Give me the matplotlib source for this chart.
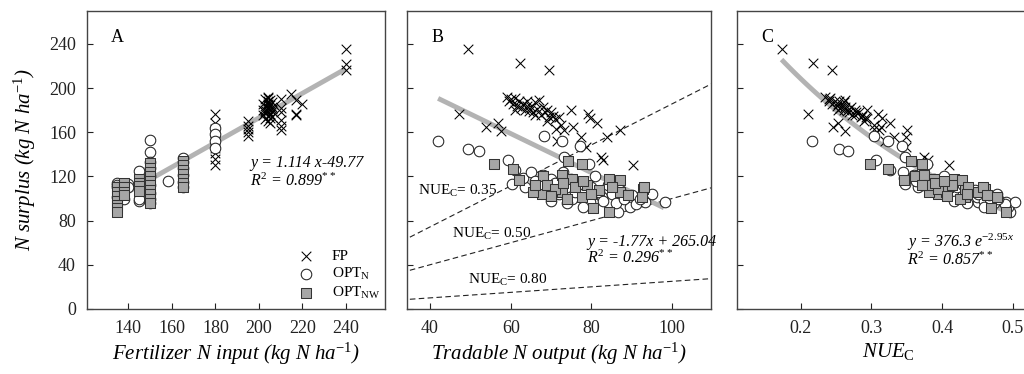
import matplotlib
matplotlib.use("Agg")
import matplotlib.pyplot as plt
import numpy as np

plt.rcParams['font.family'] = ['Liberation Serif', 'DejaVu Serif']
plt.rcParams['mathtext.fontset'] = 'custom'
plt.rcParams['mathtext.rm'] = 'Liberation Serif'
plt.rcParams['mathtext.it'] = 'Liberation Serif:italic'

# ---- panel A: fertilizer N input vs N surplus ----
a_fp_x = [180]*11 + [195]*5 + [202, 202, 203, 203, 203, 203, 204, 204, 204, 204, 204, 204, 205, 205,
          205, 205, 205, 205, 206, 206, 206, 206, 203, 204, 205, 202, 206, 204] + \
         [210]*6 + [215, 217, 217, 217, 220] + [240]*3
a_fp_y = [177, 168, 163, 160, 157, 152, 150, 146, 141, 136, 130,
          170, 166, 163, 160, 157,
          186, 176, 190, 184, 178, 172, 192, 188, 182, 179, 175, 170, 189, 185,
          181, 177, 173, 168, 187, 183, 179, 174, 180, 186, 176, 180, 181, 191,
          190, 182, 178, 171, 166, 162,
          195, 189, 177, 176, 186,
          235, 222, 216]
a_optn_x = [135, 135, 135, 135, 138, 140, 140, 145, 145, 145,
            150, 150, 150, 150, 150, 150, 150, 150, 150, 158,
            165, 165, 165, 165, 165, 165, 180, 180, 180, 180]
a_optn_y = [114, 112, 110, 101, 100, 113, 110, 125, 98, 100,
            153, 142, 133, 128, 120, 112, 105, 100, 96, 116,
            137, 133, 128, 121, 115, 110, 164, 158, 152, 146]
a_optnw_x = [135]*7 + [138]*4 + [145]*4 + [150]*10 + [165]*7
a_optnw_y = [110, 106, 102, 98, 94, 91, 88,
             114, 110, 106, 103,
             118, 114, 111, 107,
             132, 128, 124, 120, 116, 112, 108, 104, 100, 96,
             134, 130, 126, 122, 118, 114, 110]
a_fit_x = [135, 240]

# ---- panel B: tradable N output vs N surplus ----
b_fp_x = [49.4, 62.3, 69.6, 47.2, 53.9, 56.9, 57.5,
          59, 59.5, 60, 60.5, 61, 61.5, 62, 62.5, 63, 63.5, 64, 64.5, 65, 65.5, 66, 66.5,
          67, 67.5, 68, 68.5, 69, 69.5, 70, 70.5, 71, 72, 66, 64, 61,
          74.9, 79.2, 79.7, 81.4, 87.1, 83.8, 77.5, 75.4, 73.1, 71.2, 71.6, 78.7, 82.3,
          82.8, 90.3, 72.5, 69]
b_fp_y = [235, 223, 216, 177, 165, 168, 161,
          192, 188, 190, 186, 191, 184, 188, 182, 186, 180, 184, 179, 183, 178, 187, 181,
          189, 176, 183, 178, 180, 174, 178, 175, 172, 174, 176, 188, 180,
          180, 177, 173, 168, 162, 156, 156, 164.5, 162, 163, 152.5, 147, 137.5,
          135, 130, 167, 170]
b_optn_x = [42, 49.4, 52.1, 68.3, 72.8, 77.3, 59.3, 73.1, 79.5, 60.3, 63.6, 75.1, 79.7, 82.6,
            86.7, 89.6, 93.3, 98.3, 61, 63, 65, 66, 67, 68, 69, 70, 71, 72, 73, 74, 75, 76,
            77, 78, 80, 81, 82, 83, 84, 85, 86, 87, 88, 90, 91, 92, 95, 70, 74, 78]
b_optn_y = [152.5, 145, 143, 157, 152, 148, 134.5, 137.5, 131, 113, 110, 100, 97, 101.5,
            88, 92, 97, 97, 126, 119, 124, 116, 112, 121, 108, 118, 114, 104, 124, 110, 118, 106,
            113, 104, 110, 120, 106, 98, 112, 104, 96, 108, 100, 103, 95, 100, 104, 98, 96, 92]
b_optnw_x = [55.9, 74.2, 77.6, 60.6, 67.9, 72.6, 75.1, 84.4, 87.1, 92.9, 67.7, 65.6, 72.6,
             77.6, 80.4, 84.4, 87.1, 92.5, 93, 69, 71, 73, 76, 79, 82, 85, 70, 74, 80, 89,
             66, 78, 62]
b_optnw_y = [131.5, 134, 131, 127, 120, 121, 118, 118, 116.5, 109, 104, 106, 106,
             101.5, 91, 88, 106, 101.5, 110, 112, 109, 114, 110, 112, 108, 110, 102, 100, 104, 103,
             112, 116, 117]
b_fit_x = [42, 98]
nue_levels = [0.35, 0.50, 0.80]
nue_x = [35, 110]

# ---- panel C: NUE_C vs N surplus ----
c_fp_x = [0.174, 0.218, 0.244, 0.211, 0.246, 0.253, 0.263,
          0.235, 0.240, 0.240, 0.245, 0.242, 0.251, 0.248, 0.256, 0.253, 0.261, 0.258, 0.265,
          0.262, 0.269, 0.261, 0.269, 0.262, 0.277, 0.271, 0.278, 0.277, 0.285, 0.282, 0.287,
          0.292, 0.293, 0.273, 0.254, 0.253,
          0.294, 0.309, 0.315, 0.326, 0.350, 0.349, 0.332, 0.314, 0.311, 0.304, 0.319, 0.349,
          0.374, 0.380, 0.410, 0.303, 0.289]
c_fp_y = b_fp_y
c_optn_x = [0.216, 0.254, 0.267, 0.303, 0.324, 0.343, 0.306, 0.347, 0.378, 0.348, 0.366,
            0.429, 0.451, 0.449, 0.496, 0.493, 0.490, 0.503, 0.326, 0.346, 0.344, 0.363, 0.374,
            0.360, 0.390, 0.372, 0.384, 0.409, 0.371, 0.402, 0.389, 0.418, 0.405, 0.429, 0.421,
            0.403, 0.436, 0.459, 0.429, 0.450, 0.473, 0.446, 0.468, 0.466, 0.489, 0.479, 0.477,
            0.417, 0.435, 0.459]
c_optn_y = b_optn_y
c_optnw_x = [0.298, 0.356, 0.372, 0.323, 0.361, 0.375, 0.389, 0.417, 0.428, 0.460, 0.394,
             0.382, 0.406, 0.433, 0.469, 0.490, 0.451, 0.477, 0.458, 0.381, 0.394, 0.390, 0.409,
             0.414, 0.432, 0.436, 0.407, 0.425, 0.435, 0.464, 0.371, 0.402, 0.346]
c_optnw_y = b_optnw_y

fp_kw = dict(marker='x', s=48, c='black', linewidths=0.75, zorder=3)
on_kw = dict(marker='o', s=58, facecolors='white', edgecolors='#222222', linewidths=0.75, zorder=4)
onw_kw = dict(marker='s', s=48, facecolors='#a6a6a6', edgecolors='#333333', linewidths=0.75, zorder=4)
fit_kw = dict(color='#b3b3b3', lw=3.5, zorder=2, solid_capstyle='butt')

fig = plt.figure(figsize=(10.24, 3.74), dpi=100)
axA = fig.add_axes([0.085, 0.174, 0.291, 0.797])
axB = fig.add_axes([0.3975, 0.174, 0.297, 0.797])
axC = fig.add_axes([0.7197, 0.174, 0.295, 0.797])

for ax in (axA, axB, axC):
    ax.set_ylim(0, 270)
    ax.set_yticks([0, 40, 80, 120, 160, 200, 240])
    ax.tick_params(direction='in', length=4, width=0.8, labelsize=13, colors='#222222',
                   pad=8)
    for sp in ax.spines.values():
        sp.set_color('#444444')
        sp.set_linewidth(1.0)

# A
axA.scatter(a_fp_x, a_fp_y, label='FP', **fp_kw)
axA.scatter(a_optn_x, a_optn_y, label='OPT$_\\mathrm{N}$', **on_kw)
axA.scatter(a_optnw_x, a_optnw_y, label='OPT$_\\mathrm{NW}$', **onw_kw)
xa = np.array(a_fit_x)
axA.plot(xa, 1.114 * xa - 49.77, **fit_kw)
axA.set_xlim(121, 258)
axA.set_xticks([140, 160, 180, 200, 220, 240])
axA.set_xlabel('Fertilizer N input (kg N ha$^{-1}$)', fontsize=15, style='italic', labelpad=3)
axA.set_ylabel('N surplus (kg N ha$^{-1}$)', fontsize=15, style='italic', labelpad=8)
axA.text(0.08, 0.91, 'A', transform=axA.transAxes, fontsize=13, va='center')
axA.text(196, 132, 'y = 1.114 x-49.77', fontsize=11.5, style='italic', va='center')
axA.text(196, 116, '$R^2$ = 0.899$^{**}$', fontsize=11.5, style='italic', va='center')
axA.legend(loc='lower right', bbox_to_anchor=(1.02, -0.01), frameon=False, fontsize=11,
           handletextpad=0.7, labelspacing=0.2, borderaxespad=0.3)

# B
xn = np.array(nue_x)
for nue in nue_levels:
    axB.plot(xn, xn * (1 / nue - 1), ls='--', color='#222222', lw=0.8, dashes=(5, 3), zorder=1)
axB.scatter(b_fp_x, b_fp_y, **fp_kw)
axB.scatter(b_optn_x, b_optn_y, **on_kw)
axB.scatter(b_optnw_x, b_optnw_y, **onw_kw)
xb = np.array(b_fit_x)
axB.plot(xb, -1.77 * xb + 265.04, **fit_kw)
axB.set_xlim(34.3, 109.7)
axB.set_xticks([40, 60, 80, 100])
axB.set_yticklabels([])
axB.set_xlabel('Tradable N output (kg N ha$^{-1}$)', fontsize=15, style='italic', labelpad=3)
axB.text(0.08, 0.91, 'B', transform=axB.transAxes, fontsize=13, va='center')
axB.text(37, 107, 'NUE$_\\mathrm{C}$= 0.35', fontsize=11, va='center')
axB.text(45.5, 68, 'NUE$_\\mathrm{C}$= 0.50', fontsize=11, va='center')
axB.text(49.4, 26, 'NUE$_\\mathrm{C}$= 0.80', fontsize=11, va='center')
axB.text(79, 61, 'y = -1.77x + 265.04', fontsize=11.5, style='italic', va='center')
axB.text(79, 46, '$R^2$ = 0.296$^{**}$', fontsize=11.5, style='italic', va='center')

# C
axC.scatter(c_fp_x, c_fp_y, **fp_kw)
axC.scatter(c_optn_x, c_optn_y, **on_kw)
axC.scatter(c_optnw_x, c_optnw_y, **onw_kw)
xc = np.linspace(0.173, 0.5, 60)
axC.plot(xc, 376.3 * np.exp(-2.95 * xc), **fit_kw)
axC.set_xlim(0.11, 0.537)
axC.set_xticks([0.2, 0.3, 0.4, 0.5])
axC.set_yticklabels([])
axC.set_xlabel('$\\mathit{NUE}_\\mathrm{C}$', fontsize=15, labelpad=3)
axC.text(0.08, 0.91, 'C', transform=axC.transAxes, fontsize=13, va='center')
axC.text(0.35, 60, 'y = 376.3 e$^{-2.95x}$', fontsize=11.5, style='italic', va='center')
axC.text(0.35, 44, '$R^2$ = 0.857$^{**}$', fontsize=11.5, style='italic', va='center')

fig.savefig('out.png', dpi=100)
